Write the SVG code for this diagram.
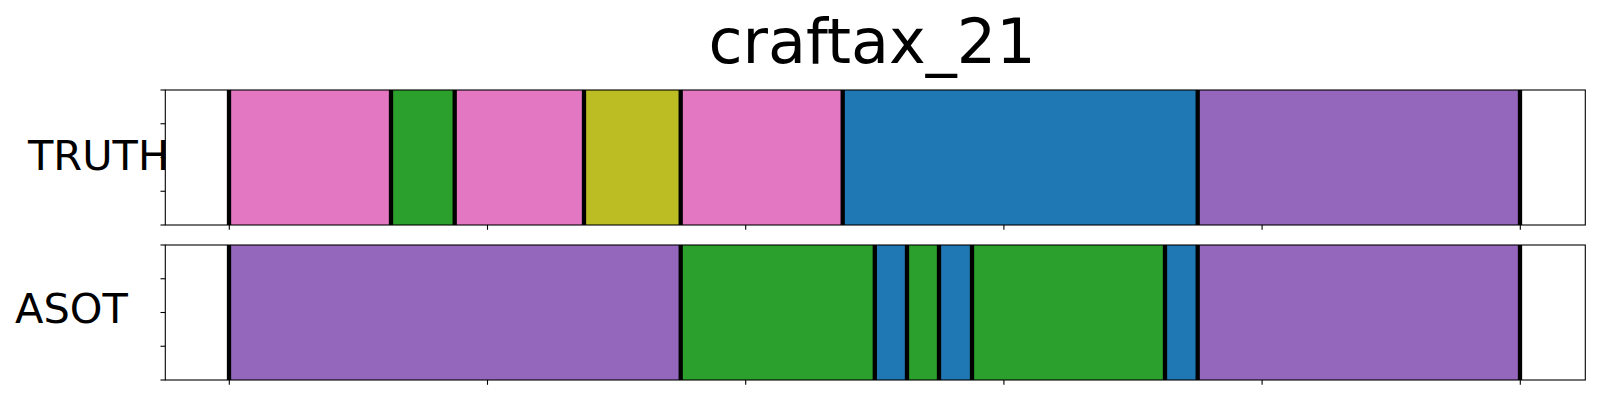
<svg xmlns="http://www.w3.org/2000/svg" width="1600" height="400" viewBox="0 0 1600 400">
<style>
.t{font-family:"DejaVu Sans","Liberation Sans",sans-serif;fill:#000}
.frame{fill:none;stroke:#000;stroke-width:1.1}
.tick{stroke:#000;stroke-width:1.1}
.sep{stroke:#000;stroke-width:4.3}
.pink{fill:#e377c2}.green{fill:#2ca02c}.olive{fill:#bcbd22}.blue{fill:#1f77b4}.purple{fill:#9467bd}
</style>
<rect width="1600" height="400" fill="#fff"/>
<text id="title" class="t" x="872" y="63" font-size="62" text-anchor="middle">craftax_21</text>
<g id="truth">
  <g id="truth-segments">
    <rect class="pink" x="229" y="90" width="162" height="135"/>
    <rect class="green" x="391" y="90" width="63.7" height="135"/>
    <rect class="pink" x="454.7" y="90" width="129.3" height="135"/>
    <rect class="olive" x="584" y="90" width="96.7" height="135"/>
    <rect class="pink" x="680.7" y="90" width="162" height="135"/>
    <rect class="blue" x="842.7" y="90" width="355" height="135"/>
    <rect class="purple" x="1197.7" y="90" width="322.3" height="135"/>
  </g>
  <g id="truth-separators">
    <line class="sep" x1="229" y1="90" x2="229" y2="225"/>
    <line class="sep" x1="391" y1="90" x2="391" y2="225"/>
    <line class="sep" x1="454.7" y1="90" x2="454.7" y2="225"/>
    <line class="sep" x1="584" y1="90" x2="584" y2="225"/>
    <line class="sep" x1="680.7" y1="90" x2="680.7" y2="225"/>
    <line class="sep" x1="842.7" y1="90" x2="842.7" y2="225"/>
    <line class="sep" x1="1197.7" y1="90" x2="1197.7" y2="225"/>
    <line class="sep" x1="1520" y1="90" x2="1520" y2="225"/>
  </g>
  <rect class="frame" x="165.3" y="90" width="1420" height="135"/>
  <g id="truth-ticks">
    <line class="tick" x1="160.5" y1="90" x2="165.3" y2="90"/>
    <line class="tick" x1="160.5" y1="123.75" x2="165.3" y2="123.75"/>
    <line class="tick" x1="160.5" y1="157.5" x2="165.3" y2="157.5"/>
    <line class="tick" x1="160.5" y1="191.25" x2="165.3" y2="191.25"/>
    <line class="tick" x1="160.5" y1="225" x2="165.3" y2="225"/>
    <line class="tick" x1="229.3" y1="225" x2="229.3" y2="229.8"/>
    <line class="tick" x1="487.5" y1="225" x2="487.5" y2="229.8"/>
    <line class="tick" x1="745.7" y1="225" x2="745.7" y2="229.8"/>
    <line class="tick" x1="1003.9" y1="225" x2="1003.9" y2="229.8"/>
    <line class="tick" x1="1262.1" y1="225" x2="1262.1" y2="229.8"/>
    <line class="tick" x1="1520.3" y1="225" x2="1520.3" y2="229.8"/>
  </g>
  <text class="t" x="28" y="170" font-size="41.5">TRUTH</text>
</g>
<g id="asot">
  <g id="asot-segments">
    <rect class="purple" x="229" y="245" width="451.7" height="135"/>
    <rect class="green" x="680.7" y="245" width="194.1" height="135"/>
    <rect class="blue" x="874.8" y="245" width="32.2" height="135"/>
    <rect class="green" x="907" y="245" width="32" height="135"/>
    <rect class="blue" x="939" y="245" width="33" height="135"/>
    <rect class="green" x="972" y="245" width="193" height="135"/>
    <rect class="blue" x="1165" y="245" width="32.7" height="135"/>
    <rect class="purple" x="1197.7" y="245" width="322.3" height="135"/>
  </g>
  <g id="asot-separators">
    <line class="sep" x1="229" y1="245" x2="229" y2="380"/>
    <line class="sep" x1="680.7" y1="245" x2="680.7" y2="380"/>
    <line class="sep" x1="874.8" y1="245" x2="874.8" y2="380"/>
    <line class="sep" x1="907" y1="245" x2="907" y2="380"/>
    <line class="sep" x1="939" y1="245" x2="939" y2="380"/>
    <line class="sep" x1="972" y1="245" x2="972" y2="380"/>
    <line class="sep" x1="1165" y1="245" x2="1165" y2="380"/>
    <line class="sep" x1="1197.7" y1="245" x2="1197.7" y2="380"/>
    <line class="sep" x1="1520" y1="245" x2="1520" y2="380"/>
  </g>
  <rect class="frame" x="165.3" y="245" width="1420" height="135"/>
  <g id="asot-ticks">
    <line class="tick" x1="160.5" y1="245" x2="165.3" y2="245"/>
    <line class="tick" x1="160.5" y1="278.75" x2="165.3" y2="278.75"/>
    <line class="tick" x1="160.5" y1="312.5" x2="165.3" y2="312.5"/>
    <line class="tick" x1="160.5" y1="346.25" x2="165.3" y2="346.25"/>
    <line class="tick" x1="160.5" y1="380" x2="165.3" y2="380"/>
    <line class="tick" x1="229.3" y1="380" x2="229.3" y2="384.8"/>
    <line class="tick" x1="487.5" y1="380" x2="487.5" y2="384.8"/>
    <line class="tick" x1="745.7" y1="380" x2="745.7" y2="384.8"/>
    <line class="tick" x1="1003.9" y1="380" x2="1003.9" y2="384.8"/>
    <line class="tick" x1="1262.1" y1="380" x2="1262.1" y2="384.8"/>
    <line class="tick" x1="1520.3" y1="380" x2="1520.3" y2="384.8"/>
  </g>
  <text class="t" x="15" y="323" font-size="41.5">ASOT</text>
</g>
<g id="connectors"/>
</svg>
